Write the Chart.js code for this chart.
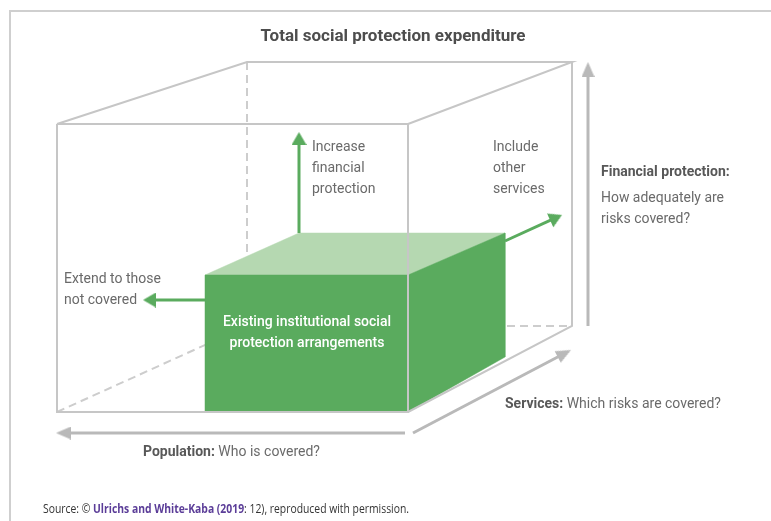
<!DOCTYPE html>
<html lang="en">
<head>
    <meta charset="UTF-8">
    <title>Total social protection expenditure</title>
    <script src="https://cdn.jsdelivr.net/npm/chart.js"></script>
    <style>
        html, body { margin: 0; padding: 0; background: #fff; }
        .chart-container { position: relative; width: 771px; height: 521px; }
    </style>
</head>
<body>
    <div class="chart-container">
        <canvas id="diagram" width="771" height="521"></canvas>
    </div>

    <script>
        // Diagram points in picture units (x to the right, y downwards)
        const frameLine = [[10, 521], [10, 11], [771, 11]];

        // wireframe box of total expenditure
        const boxSolid = [
            [[57, 124], [408, 124], [408, 412], [57, 412], [57, 124]],
            [[57, 124], [247, 62], [572, 62], [408, 124]],
            [[572, 62], [572, 326], [408, 412]]
        ];
        const boxDashed = [
            [[247, 62], [247, 326]],
            [[247, 326], [572, 326]],
            [[57, 412], [247, 326]]
        ];

        // green box of existing arrangements
        const greenFront = [[205, 275], [408, 275], [408, 412], [205, 412], [205, 275]];
        const greenTop = [[205, 275], [299, 233], [505, 233], [408, 275], [205, 275]];
        const greenSide = [[408, 275], [505, 233], [505, 357], [408, 412], [408, 275]];

        // arrows: [tail, tip]
        const greenArrows = [
            [[299, 233], [299, 132]],
            [[205, 300], [143, 300]],
            [[505, 241], [562, 215]]
        ];
        const grayArrows = [
            [[588, 326], [588, 62]],
            [[405, 433], [56, 433]],
            [[413, 433], [571, 350]]
        ];

        // texts
        const titleText = 'Total social protection expenditure';
        const upNote = ['Increase', 'financial', 'protection'];
        const sideNote = ['Include', 'other', 'services'];
        const leftNote = ['Extend to those', 'not covered'];
        const boxLabel = ['Existing institutional social', 'protection arrangements'];
        const financialLabel = ['Financial protection:', 'How adequately are', 'risks covered?'];
        const servicesLabel = ['Services:', ' Which risks are covered?'];
        const populationLabel = ['Population:', ' Who is covered?'];
        const sourceLine = ['Source: © ', 'Ulrichs and White-Kaba (2019', ': 12), reproduced with permission.'];

        const GREEN = '#5aab5e';
        const GREEN_LIGHT = '#b5d8b1';
        const LINE_GRAY = '#c6c6c6';
        const DASH_GRAY = '#cdcdcd';
        const ARROW_GRAY = '#b9b9b9';

        const toXY = pts => pts.map(p => ({ x: p[0], y: p[1] }));

        // small canvas used as point style for arrow heads (tip points up)
        function makeHead(color, len, wid) {
            const c = document.createElement('canvas');
            c.width = wid;
            c.height = len;
            const g = c.getContext('2d');
            g.fillStyle = color;
            g.beginPath();
            g.moveTo(wid / 2, 0);
            g.lineTo(wid, len);
            g.lineTo(0, len);
            g.closePath();
            g.fill();
            return c;
        }

        function arrowDataset(arrow, color, width, len, wid, order) {
            const [tail, tip] = arrow;
            const dx = tip[0] - tail[0], dy = tip[1] - tail[1];
            const d = Math.hypot(dx, dy);
            const ux = dx / d, uy = dy / d;
            // head image is centred on the point, so step back half its length
            const mid = [tip[0] - ux * len / 2, tip[1] - uy * len / 2];
            const angle = Math.atan2(dx, -dy) * 180 / Math.PI;
            return {
                data: toXY([tail, mid]),
                showLine: true,
                borderColor: color,
                borderWidth: width,
                pointStyle: [false, makeHead(color, len, wid)],
                pointRadius: [0, len],
                pointRotation: [0, angle],
                order: order
            };
        }

        function lineDataset(pts, color, width, dash, order) {
            return {
                data: toXY(pts),
                showLine: true,
                borderColor: color,
                borderWidth: width,
                borderDash: dash || [],
                borderCapStyle: 'butt',
                pointRadius: 0,
                order: order
            };
        }

        function faceDataset(pts, color, order) {
            return {
                data: toXY(pts),
                showLine: true,
                borderColor: color,
                borderWidth: 0.5,
                backgroundColor: color,
                fill: 'shape',
                pointRadius: 0,
                order: order
            };
        }

        // lower order is drawn on top
        const datasets = [];
        datasets.push(lineDataset(frameLine, '#cfcfcf', 2, null, 90));
        boxDashed.forEach(p => datasets.push(lineDataset(p, DASH_GRAY, 2, [8, 5], 80)));
        grayArrows.forEach(a => datasets.push(arrowDataset(a, ARROW_GRAY, 3, 15, 13, 70)));
        datasets.push(faceDataset(greenFront, GREEN, 60));
        datasets.push(faceDataset(greenSide, GREEN, 60));
        datasets.push(faceDataset(greenTop, GREEN_LIGHT, 60));
        boxSolid.forEach(p => datasets.push(lineDataset(p, LINE_GRAY, 2, null, 50)));
        greenArrows.forEach(a => datasets.push(arrowDataset(a, GREEN, 3, 13, 15, 40)));

        // text drawing through the scales
        function fitText(ctx, text, x, y, maxW) {
            const w = ctx.measureText(text).width;
            if (maxW && w > maxW) ctx.fillText(text, x, y, maxW);
            else ctx.fillText(text, x, y);
        }

        // runs: [text, font, color]; squeezed together to totalW if wider
        function drawRuns(ctx, runs, x, y, totalW) {
            let natural = 0;
            runs.forEach(r => { ctx.font = r[1]; natural += ctx.measureText(r[0]).width; });
            const k = totalW && natural > totalW ? totalW / natural : 1;
            let cx = x;
            runs.forEach(r => {
                ctx.font = r[1];
                ctx.fillStyle = r[2];
                const w = ctx.measureText(r[0]).width * k;
                ctx.fillText(r[0], cx, y, w);
                cx += w;
            });
        }

        const textPlugin = {
            id: 'diagramText',
            afterDraw(chart) {
                const ctx = chart.ctx;
                const sx = v => chart.scales.x.getPixelForValue(v);
                const sy = v => chart.scales.y.getPixelForValue(v);
                ctx.save();
                ctx.textBaseline = 'middle';

                // title
                ctx.textAlign = 'center';
                ctx.font = 'bold 17px Roboto';
                ctx.fillStyle = '#4d4d4d';
                fitText(ctx, titleText, sx(393), sy(37), 272);

                // notes beside the green arrows
                ctx.textAlign = 'left';
                ctx.font = '14px Roboto';
                ctx.fillStyle = '#6a6a6a';
                upNote.forEach((t, i) => fitText(ctx, t, sx(312), sy(147 + i * 21), 68));
                sideNote.forEach((t, i) => fitText(ctx, t, sx(493), sy(147 + i * 21), 54));
                leftNote.forEach((t, i) => fitText(ctx, t, sx(64), sy(279 + i * 21), 98));

                // label on the green box
                ctx.textAlign = 'center';
                ctx.font = '500 14px Roboto';
                ctx.fillStyle = '#ffffff';
                boxLabel.forEach((t, i) => fitText(ctx, t, sx(307), sy(322 + i * 21), 170));

                // right side axis label
                ctx.textAlign = 'left';
                ctx.font = 'bold 14px Roboto';
                ctx.fillStyle = '#585858';
                fitText(ctx, financialLabel[0], sx(601), sy(172), 135);
                ctx.font = '14px Roboto';
                ctx.fillStyle = '#6a6a6a';
                fitText(ctx, financialLabel[1], sx(601), sy(198), 123);
                fitText(ctx, financialLabel[2], sx(601), sy(219), 90);

                // bottom axis labels
                drawRuns(ctx, [
                    [servicesLabel[0], 'bold 14px Roboto', '#585858'],
                    [servicesLabel[1], '14px Roboto', '#6a6a6a']
                ], sx(505), sy(404), 216);
                drawRuns(ctx, [
                    [populationLabel[0], 'bold 14px Roboto', '#585858'],
                    [populationLabel[1], '14px Roboto', '#6a6a6a']
                ], sx(143), sy(452), 177);

                // source line
                drawRuns(ctx, [
                    [sourceLine[0], '12px "Open Sans"', '#333333'],
                    [sourceLine[1], 'bold 12px "Open Sans"', '#5b3d98'],
                    [sourceLine[2], '12px "Open Sans"', '#333333']
                ], sx(43), sy(510), 366);

                ctx.restore();
            }
        };

        new Chart(document.getElementById('diagram'), {
            type: 'scatter',
            data: { datasets: datasets },
            options: {
                responsive: false,
                animation: false,
                events: [],
                layout: { padding: 0, autoPadding: false },
                scales: {
                    x: { type: 'linear', min: 0, max: 771, display: false },
                    y: { type: 'linear', min: 0, max: 521, reverse: true, display: false }
                },
                plugins: {
                    legend: { display: false },
                    tooltip: { enabled: false },
                    title: { display: false }
                }
            },
            plugins: [textPlugin]
        });
    </script>
</body>
</html>
